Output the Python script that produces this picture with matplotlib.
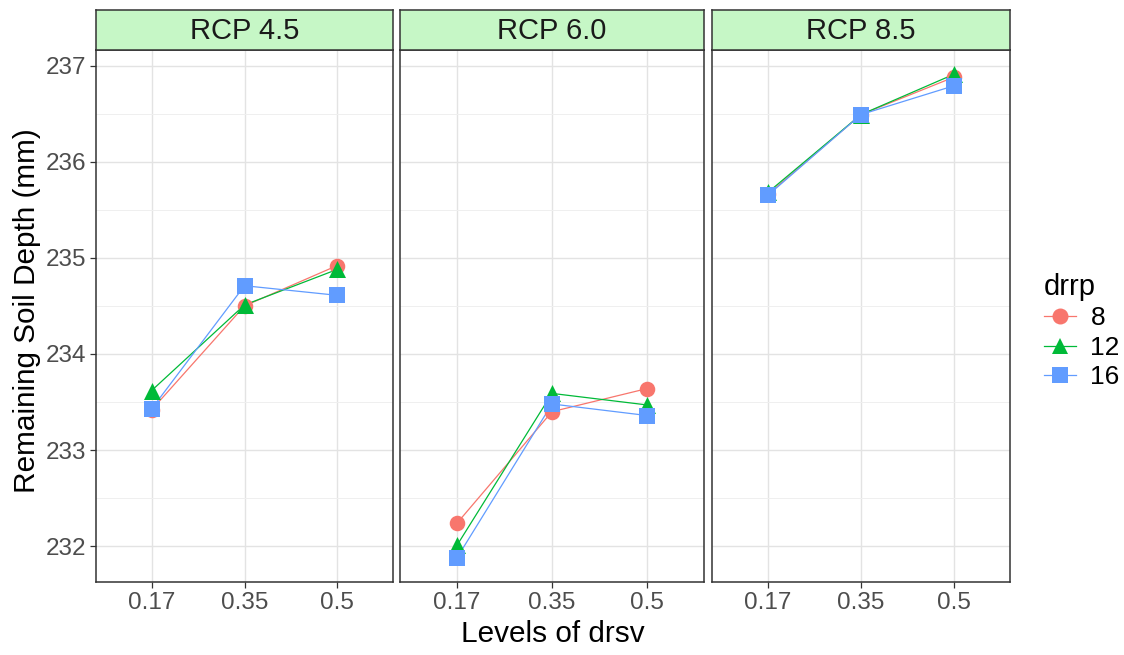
import matplotlib
matplotlib.use("Agg")
import matplotlib.pyplot as plt
from matplotlib.lines import Line2D

plt.rcParams["font.family"] = ["Liberation Sans", "DejaVu Sans"]

panels = ["RCP 4.5", "RCP 6.0", "RCP 8.5"]
levels = ["0.17", "0.35", "0.5"]
groups = ["8", "12", "16"]
colors = ["#F8766D", "#00BA38", "#619CFF"]
markers = ["o", "^", "s"]

# values for levels 0.17, 0.35, 0.5
rcp45_8 = [233.42, 234.50, 234.92]
rcp45_12 = [233.62, 234.51, 234.88]
rcp45_16 = [233.43, 234.71, 234.61]
rcp60_8 = [232.24, 233.40, 233.64]
rcp60_12 = [232.01, 233.59, 233.47]
rcp60_16 = [231.88, 233.48, 233.36]
rcp85_8 = [235.66, 236.49, 236.88]
rcp85_12 = [235.68, 236.49, 236.91]
rcp85_16 = [235.65, 236.49, 236.79]

data = [
    [rcp45_8, rcp45_12, rcp45_16],
    [rcp60_8, rcp60_12, rcp60_16],
    [rcp85_8, rcp85_12, rcp85_16],
]

allv = [v for p in data for g in p for v in g]
lo, hi = min(allv), max(allv)
pad = (hi - lo) * 0.05
ylim = (lo - pad, hi + pad)

W, H = 1124, 655
fig = plt.figure(figsize=(W / 100, H / 100), dpi=100)

panel_x = [(96, 393), (400, 704), (712, 1010)]
top, bottom = 50, 582
strip_top = 10
sizes = {"o": 125, "^": 150, "s": 145}

for i, (x0, x1) in enumerate(panel_x):
    ax = fig.add_axes([x0 / W, 1 - bottom / H, (x1 - x0) / W, (bottom - top) / H])
    xs = list(range(1, len(levels) + 1))
    for g in range(len(groups)):
        ax.plot(xs, data[i][g], color=colors[g], lw=0.9, zorder=3)
    for g in range(len(groups)):
        ax.scatter(xs, data[i][g], color=colors[g], marker=markers[g],
                   s=sizes[markers[g]], zorder=4, linewidths=0)
    ax.set_xlim(0.4, 3.6)
    ax.set_ylim(*ylim)
    ax.set_xticks(xs)
    ax.set_xticklabels(levels)
    ax.set_yticks([232, 233, 234, 235, 236, 237])
    ax.set_yticks([231.5 + k * 1.0 for k in range(1, 6)] + [236.5], minor=True)
    ax.grid(True, which="major", color="#E3E3E3", lw=1.0, zorder=0)
    ax.grid(True, which="minor", axis="y", color="#EFEFEF", lw=0.7, zorder=0)
    ax.set_axisbelow(True)
    for s in ax.spines.values():
        s.set_color("#333333")
        s.set_linewidth(1.1)
    ax.tick_params(axis="both", which="major", labelsize=17.5, labelcolor="#4D4D4D",
                   color="#333333", length=4, width=0.9, pad=3)
    ax.tick_params(axis="both", which="minor", length=0)
    if i > 0:
        ax.tick_params(axis="y", labelleft=False, length=0)
    # strip
    sax = fig.add_axes([x0 / W, 1 - top / H, (x1 - x0) / W, (top - strip_top) / H])
    sax.set_facecolor("#C6F7C6")
    sax.set_xticks([])
    sax.set_yticks([])
    for s in sax.spines.values():
        s.set_color("#333333")
        s.set_linewidth(1.1)
    sax.text(0.5, 0.47, panels[i], ha="center", va="center", fontsize=21,
             color="#1A1A1A", transform=sax.transAxes)

fig.text(27 / W, 1 - 311 / H, "Remaining Soil Depth (mm)", rotation=90,
         ha="center", va="center", fontsize=21.4, color="black")
fig.text(553 / W, 1 - 634 / H, "Levels of drsv", ha="center", va="center",
         fontsize=21.4, color="black")

handles = [Line2D([0], [0], color=colors[g], marker=markers[g], lw=0.9,
                  markersize=11.5, markeredgewidth=0) for g in range(3)]
leg = fig.legend(handles, groups, title="drrp", loc="upper left",
                 bbox_to_anchor=(1031 / W, 1 - 260 / H), frameon=False,
                 fontsize=19, title_fontsize=21, handlelength=1.2,
                 labelspacing=0.2, handletextpad=0.55, borderpad=0)
leg._legend_box.align = "left"

fig.savefig("out.png", dpi=100)
